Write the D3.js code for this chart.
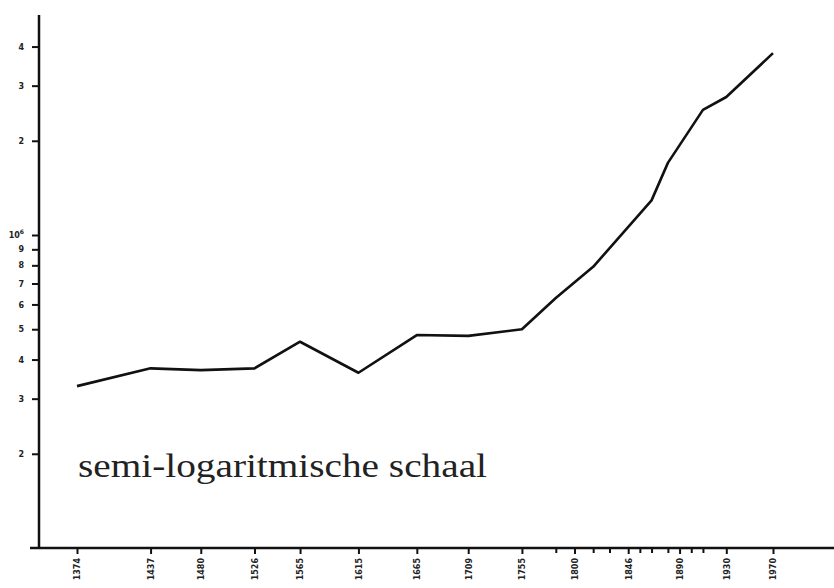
<!DOCTYPE html>
<html>
  <head>
    <meta charset="utf-8">
    <title>semi-logaritmische schaal</title>
    <script src="https://d3js.org/d3.v7.min.js"></script>
    <style>
      body { margin: 0; background: #fff; }
      svg { display: block; }
    </style>
  </head>
  <body>
  <svg id="chart" width="834" height="588"></svg>
  <script>
    // jaren en waarden (in eenheden van 10^5)
    var years  = [1374, 1437, 1480, 1526, 1565, 1615, 1665, 1709, 1755, 1784, 1816, 1866, 1880, 1910, 1930, 1970];
    var values = [3.29, 3.75, 3.70, 3.75, 4.56, 3.63, 4.79, 4.76, 5.00, 6.29, 7.91, 12.9, 17.0, 25.1, 27.6, 38.1];

    // as-labels
    var yearLabels = [1374, 1437, 1480, 1526, 1565, 1615, 1665, 1709, 1755, 1800, 1846, 1890, 1930, 1970];
    var yearTicks  = [1784, 1816, 1830, 1856, 1866, 1880, 1900, 1910];
    var yTickValues = [2, 3, 4, 5, 6, 7, 8, 9, 10, 20, 30, 40];
    var yTickLabels = ["2", "3", "4", "5", "6", "7", "8", "9", "10", "2", "3", "4"];
    var note = "semi-logaritmische schaal";

    var svg = d3.select("#chart");

    var x = d3.scaleLinear()
      .domain([1374, 1970])
      .range([77, 773]);

    // 1 decade = 313 px, de x-as ligt op 1
    var y = d3.scaleLog()
      .domain([1, Math.pow(10, 533 / 313)])
      .range([548, 15]);

    var axisX = 39;
    var axisY = y(1);

    // y-as
    svg.append("line")
      .attr("x1", axisX).attr("x2", axisX)
      .attr("y1", y.range()[1]).attr("y2", axisY + 1)
      .attr("stroke", "#111").attr("stroke-width", 2.5);

    var yAxis = d3.axisLeft(y)
      .tickValues(yTickValues)
      .tickSize(7)
      .tickPadding(8)
      .tickFormat(function(d, i) { return yTickLabels[i]; });

    var gy = svg.append("g")
      .attr("transform", "translate(" + axisX + ",0)")
      .call(yAxis);
    gy.select(".domain").remove();
    gy.selectAll(".tick line").attr("stroke", "#111").attr("stroke-width", 2);
    gy.selectAll(".tick text")
      .attr("fill", "#222")
      .style("font-family", "DejaVu Sans, sans-serif")
      .style("font-size", "8px")
      .style("font-weight", "bold");
    // 10 als macht van tien tonen
    gy.selectAll(".tick text")
      .filter(function(d) { return d === 10; })
      .text("10")
      .append("tspan")
      .attr("dy", "-0.6em")
      .style("font-size", "6px")
      .text("6");

    // x-as
    svg.append("line")
      .attr("x1", 30).attr("x2", 834)
      .attr("y1", axisY).attr("y2", axisY)
      .attr("stroke", "#111").attr("stroke-width", 2.5);

    var xAxis = d3.axisBottom(x)
      .tickValues(yearLabels)
      .tickSize(6)
      .tickFormat(d3.format("d"));

    var gx = svg.append("g")
      .attr("transform", "translate(0," + axisY + ")")
      .call(xAxis);
    gx.select(".domain").remove();
    gx.selectAll(".tick line").attr("stroke", "#111").attr("stroke-width", 2);
    gx.selectAll(".tick text")
      .attr("fill", "#222")
      .attr("transform", "rotate(-90)")
      .attr("x", -10)
      .attr("y", 0)
      .attr("dy", "0.35em")
      .attr("text-anchor", "end")
      .style("font-family", "DejaVu Sans, sans-serif")
      .style("font-size", "8px")
      .style("font-weight", "bold");

    // tussenliggende streepjes zonder label
    var gx2 = svg.append("g")
      .attr("transform", "translate(0," + axisY + ")")
      .call(d3.axisBottom(x).tickValues(yearTicks).tickSize(5).tickFormat(""));
    gx2.select(".domain").remove();
    gx2.selectAll(".tick line").attr("stroke", "#111").attr("stroke-width", 2);

    // de lijn
    var line = d3.line()
      .x(function(d, i) { return x(years[i]); })
      .y(function(d) { return y(d); });

    svg.append("path")
      .datum(values)
      .attr("d", line)
      .attr("fill", "none")
      .attr("stroke", "#111")
      .attr("stroke-width", 2.6)
      .attr("stroke-linejoin", "round");

    // tekst
    svg.append("text")
      .attr("x", 78)
      .attr("y", 477)
      .attr("textLength", 409)
      .attr("lengthAdjust", "spacingAndGlyphs")
      .attr("fill", "#222")
      .style("font-family", "Liberation Serif, serif")
      .style("font-size", "33px")
      .text(note);
  </script>
  </body>
</html>
